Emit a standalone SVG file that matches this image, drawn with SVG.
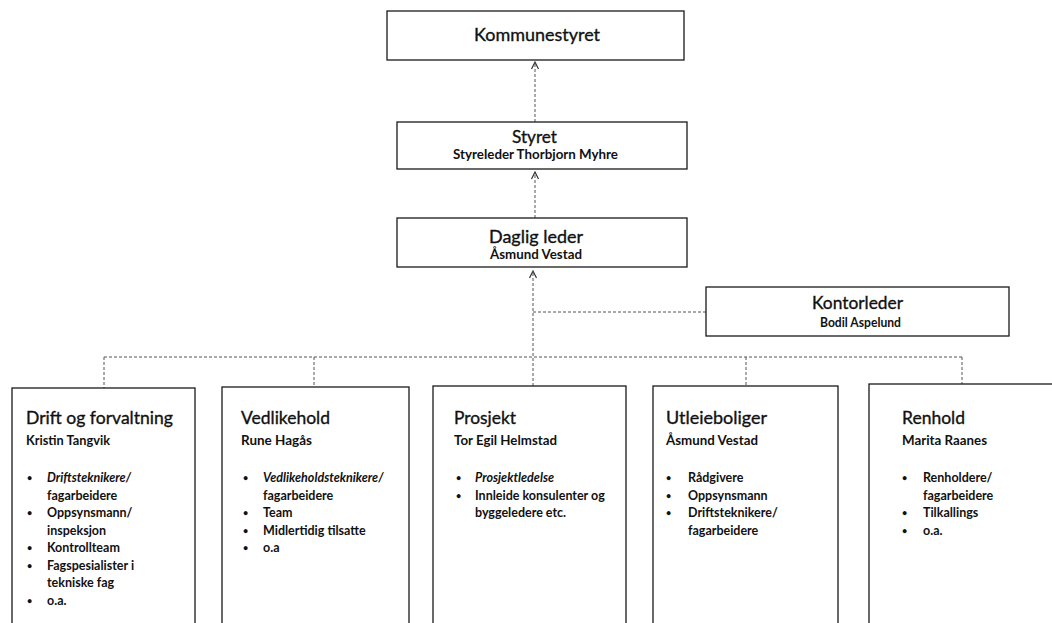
<svg xmlns="http://www.w3.org/2000/svg" width="1052" height="623" viewBox="0 0 1052 623">
<style>
  .box{fill:#fff;stroke:#1a1a1a;stroke-width:1.3}
  .title{font-family:Lato,"Liberation Sans",sans-serif;font-size:18px;fill:#111;stroke:#111;stroke-width:0.35}
  .sub{font-family:Lato,"Liberation Sans",sans-serif;font-size:12.5px;font-weight:bold;fill:#111}
  .item{font-family:Lato,"Liberation Sans",sans-serif;font-size:12.5px;font-weight:bold;fill:#111}
  .b{font-size:9px}
  .it{font-style:italic}
  .conn{fill:none;stroke:#555;stroke-width:1;stroke-dasharray:3 2}
</style>
<defs>
  <marker id="arr" viewBox="0 0 12 12" refX="10" refY="6" markerWidth="12" markerHeight="12" orient="auto" markerUnits="userSpaceOnUse">
    <path d="M3,2.5 L10,6 L3,9.5" fill="none" stroke="#333" stroke-width="1.2"/>
  </marker>
</defs>
<rect width="1052" height="623" fill="#fff"/>

<g id="connectors">
  <path class="conn" d="M535,122 V62" marker-end="url(#arr)"/>
  <path class="conn" d="M535,218 V172" marker-end="url(#arr)"/>
  <path class="conn" d="M533,386 V271" marker-end="url(#arr)"/>
  <path class="conn" d="M533,312 H706"/>
  <path class="conn" d="M104,357 H962"/>
  <path class="conn" d="M104,357 V388"/>
  <path class="conn" d="M314,357 V387"/>
  <path class="conn" d="M746,357 V386"/>
  <path class="conn" d="M962,357 V384"/>
</g>

<g id="kommunestyret">
  <rect class="box" x="387" y="11" width="297" height="49"/>
  <text class="title" x="474" y="41" textLength="126" lengthAdjust="spacingAndGlyphs">Kommunestyret</text>
</g>

<g id="styret">
  <rect class="box" x="397" y="122" width="290" height="47"/>
  <text class="title" x="512" y="143" font-size="17" textLength="45" lengthAdjust="spacingAndGlyphs">Styret</text>
  <text class="sub" x="453" y="159" textLength="165" lengthAdjust="spacingAndGlyphs">Styreleder Thorbjorn Myhre</text>
</g>

<g id="daglig-leder">
  <rect class="box" x="397" y="218" width="290" height="49"/>
  <text class="title" x="489" y="243" textLength="94" lengthAdjust="spacingAndGlyphs">Daglig leder</text>
  <text class="sub" x="490" y="259" textLength="92" lengthAdjust="spacingAndGlyphs">Åsmund Vestad</text>
</g>

<g id="kontorleder">
  <rect class="box" x="706" y="287" width="303" height="49"/>
  <text class="title" x="812" y="309" textLength="91" lengthAdjust="spacingAndGlyphs">Kontorleder</text>
  <text class="sub" x="820" y="327" textLength="81" lengthAdjust="spacingAndGlyphs">Bodil Aspelund</text>
</g>

<g id="drift">
  <rect class="box" x="12" y="388" width="183" height="260"/>
  <text class="title" x="26" y="424" textLength="147" lengthAdjust="spacingAndGlyphs">Drift og forvaltning</text>
  <text class="sub" x="26" y="445" textLength="84" lengthAdjust="spacingAndGlyphs">Kristin Tangvik</text>
  <g class="item">
    <text x="27" y="481" class="b">•</text><text x="47" y="482" class="item it">Driftsteknikere/</text>
    <text x="47" y="499.5">fagarbeidere</text>
    <text x="27" y="516" class="b">•</text><text x="47" y="517">Oppsynsmann/</text>
    <text x="47" y="534.5">inspeksjon</text>
    <text x="27" y="551" class="b">•</text><text x="47" y="552">Kontrollteam</text>
    <text x="27" y="568.5" class="b">•</text><text x="47" y="569.5">Fagspesialister i</text>
    <text x="47" y="587">tekniske fag</text>
    <text x="27" y="603.5" class="b">•</text><text x="47" y="604.5">o.a.</text>
  </g>
</g>

<g id="vedlikehold">
  <rect class="box" x="222" y="387" width="187" height="260"/>
  <text class="title" x="241" y="424" textLength="89" lengthAdjust="spacingAndGlyphs">Vedlikehold</text>
  <text class="sub" x="241" y="445" textLength="71" lengthAdjust="spacingAndGlyphs">Rune Hagås</text>
  <g class="item">
    <text x="243" y="481" class="b">•</text><text x="263" y="482" class="item it">Vedlikeholdsteknikere/</text>
    <text x="263" y="499.5">fagarbeidere</text>
    <text x="243" y="516" class="b">•</text><text x="263" y="517">Team</text>
    <text x="243" y="533.5" class="b">•</text><text x="263" y="534.5">Midlertidig tilsatte</text>
    <text x="243" y="551" class="b">•</text><text x="263" y="552">o.a</text>
  </g>
</g>

<g id="prosjekt">
  <rect class="box" x="433" y="386" width="193" height="260"/>
  <text class="title" x="454" y="424" textLength="62" lengthAdjust="spacingAndGlyphs">Prosjekt</text>
  <text class="sub" x="454" y="445" textLength="103" lengthAdjust="spacingAndGlyphs">Tor Egil Helmstad</text>
  <g class="item">
    <text x="456" y="481" class="b">•</text><text x="475" y="482" class="item it">Prosjektledelse</text>
    <text x="456" y="498.5" class="b">•</text><text x="475" y="499.5">Innleide konsulenter og</text>
    <text x="475" y="517">byggeledere etc.</text>
  </g>
</g>

<g id="utleieboliger">
  <rect class="box" x="653" y="386" width="185" height="260"/>
  <text class="title" x="666" y="424" textLength="101" lengthAdjust="spacingAndGlyphs">Utleieboliger</text>
  <text class="sub" x="666" y="445" textLength="92" lengthAdjust="spacingAndGlyphs">Åsmund Vestad</text>
  <g class="item">
    <text x="666" y="481" class="b">•</text><text x="688" y="482">Rådgivere</text>
    <text x="666" y="498.5" class="b">•</text><text x="688" y="499.5">Oppsynsmann</text>
    <text x="666" y="516" class="b">•</text><text x="688" y="517">Driftsteknikere/</text>
    <text x="688" y="534.5">fagarbeidere</text>
  </g>
</g>

<g id="renhold">
  <rect class="box" x="869" y="384" width="200" height="262"/>
  <text class="title" x="902" y="424" textLength="63" lengthAdjust="spacingAndGlyphs">Renhold</text>
  <text class="sub" x="902" y="445" textLength="85" lengthAdjust="spacingAndGlyphs">Marita Raanes</text>
  <g class="item">
    <text x="902" y="481" class="b">•</text><text x="923" y="482">Renholdere/</text>
    <text x="923" y="499.5">fagarbeidere</text>
    <text x="902" y="516" class="b">•</text><text x="923" y="517">Tilkallings</text>
    <text x="902" y="533.5" class="b">•</text><text x="923" y="534.5">o.a.</text>
  </g>
</g>
</svg>
